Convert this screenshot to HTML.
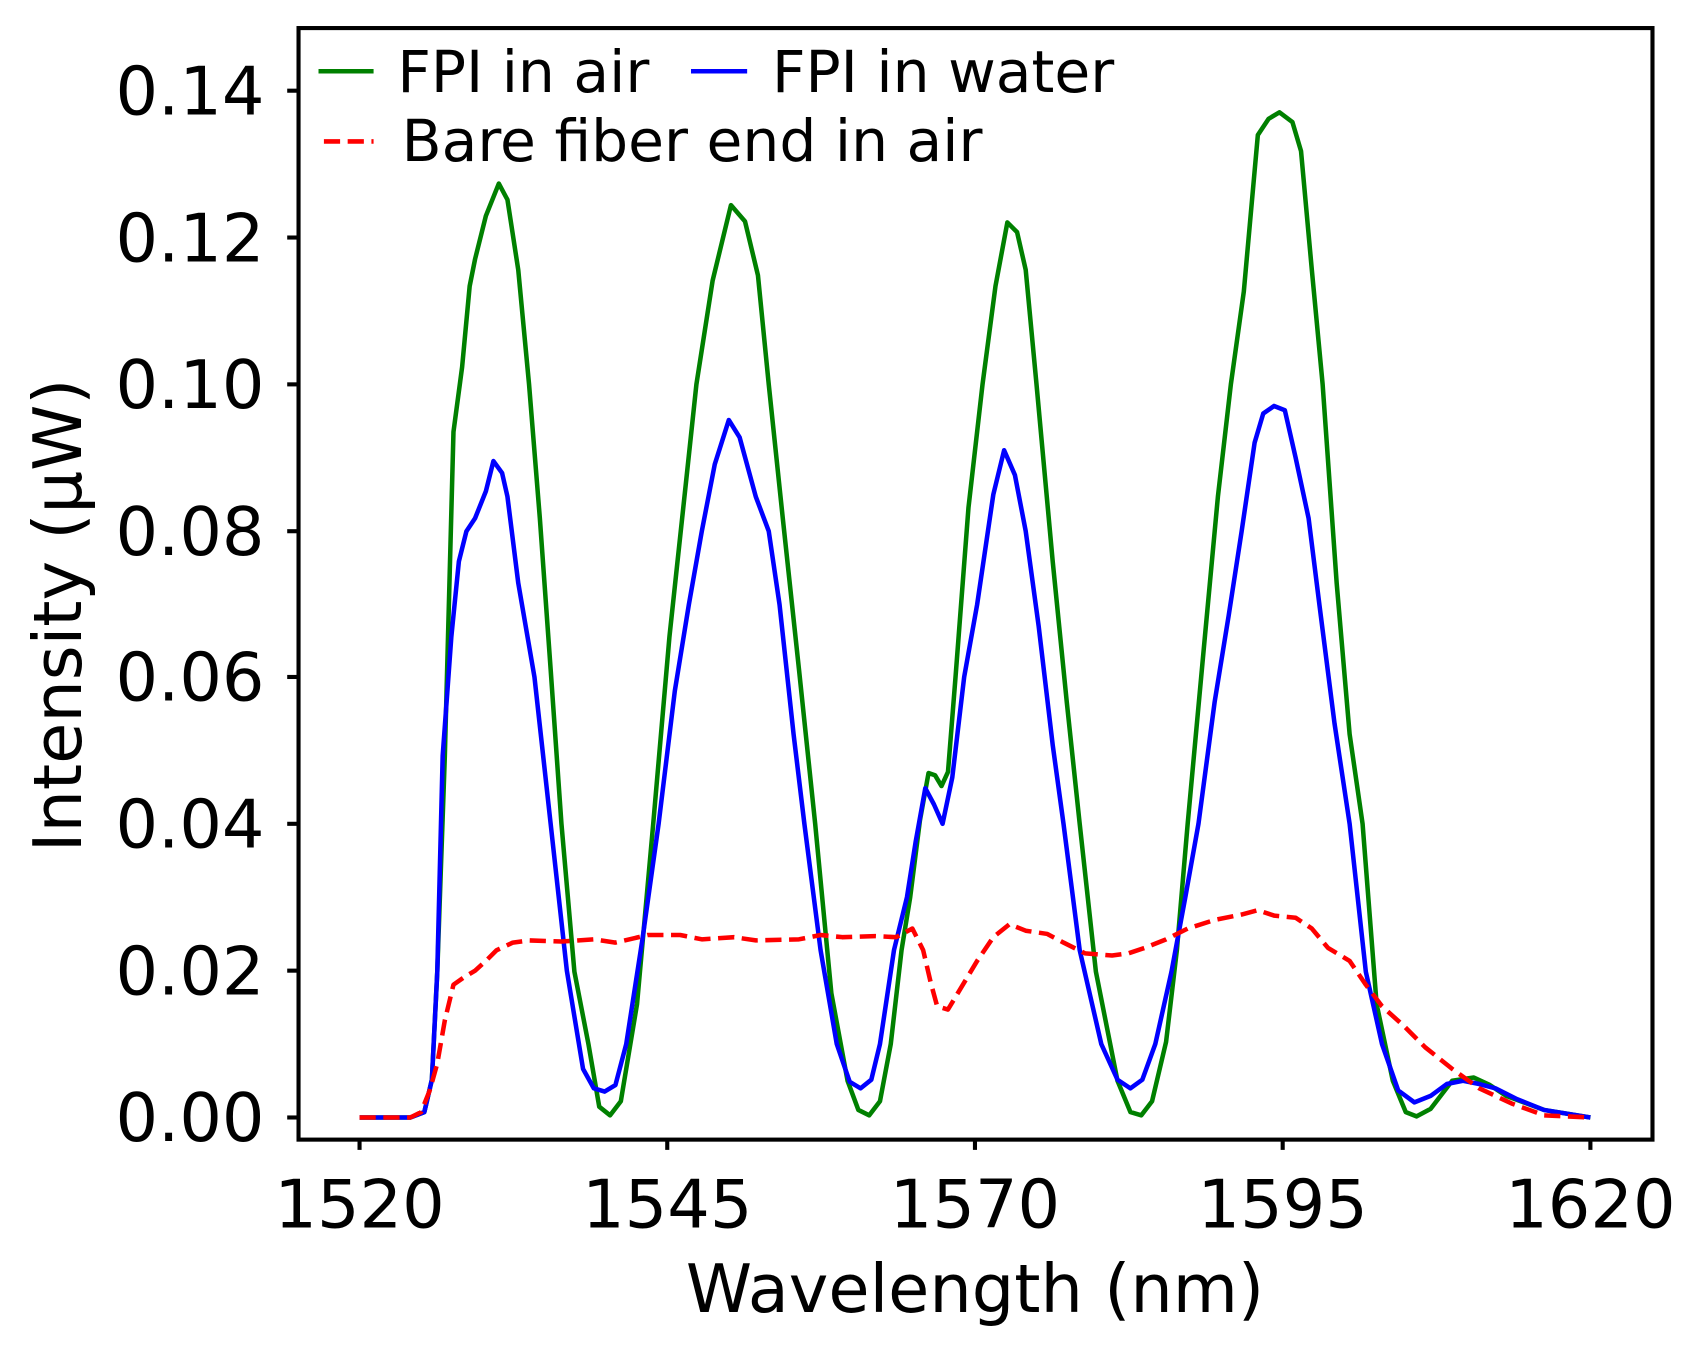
<!DOCTYPE html>
<html><head><style>html,body{margin:0;padding:0;background:#fff}svg{display:block}</style></head>
<body>
<svg width="1693" height="1348" viewBox="0 0 1693 1348" xmlns="http://www.w3.org/2000/svg">
<g transform="scale(1.0797)" font-family="'DejaVu Sans', 'Liberation Sans', sans-serif">
<g fill="none" stroke-width="4.2" stroke-linejoin="round" stroke-linecap="butt">
<polyline stroke="#008000" points="333,1035 380,1035 393,1030 400,1000 405,900 412,700 420,400 428,340 435,265 440,240 450,200 462,170 470,185 480,250 490,356 500,480 510,620 520,763 532,900 545,967 555,1025 565,1033 575,1020 590,930 605,763 620,590 635,450 645,356 660,260 677,190 690,205 702,255 712,356 725,480 740,620 755,763 770,920 785,1001 795,1028 805,1033 815,1020 825,967 835,880 843,831 852,760 860,716 866,718 872,728 878,715 885,627 897,470 910,356 922,265 933,206 942,215 950,250 960,356 975,520 988,650 1000,763 1015,900 1035,1001 1047,1030 1057,1033 1067,1020 1080,965 1090,880 1100,763 1115,600 1128,460 1140,356 1152,270 1165,125 1175,110 1185,104 1197,113 1205,140 1215,250 1225,356 1238,540 1250,680 1262,763 1275,930 1290,1001 1302,1030 1312,1034 1325,1027 1345,1001 1365,998 1380,1005 1395,1015 1430,1028 1473,1035"/>
<polyline stroke="#0000ff" points="333,1035 380,1035 393,1030 400,1000 405,900 410,700 418,590 425,520 432,492 440,480 450,455 457,427 465,438 470,460 480,540 495,627 510,763 525,899 540,990 550,1008 560,1011 570,1005 580,967 595,870 610,763 625,640 638,560 650,492 662,430 675,389 685,405 700,460 712,492 722,560 735,680 745,763 760,880 775,967 787,1002 797,1008 807,1000 815,967 828,880 840,831 848,780 857,730 865,745 873,763 882,720 893,627 905,560 920,458 930,417 940,440 950,492 962,580 975,690 985,763 1000,880 1020,967 1035,1000 1047,1008 1058,1000 1070,967 1085,900 1098,830 1110,763 1125,650 1138,570 1150,492 1162,410 1170,383 1180,376 1190,380 1200,424 1212,480 1222,560 1236,670 1250,763 1265,900 1280,967 1295,1010 1310,1021 1325,1015 1340,1004 1355,1001 1370,1004 1385,1008 1405,1018 1430,1028 1473,1035"/>
<polyline stroke="#ff0000" stroke-dasharray="15,7" points="333,1035 380,1035 390,1030 398,1010 405,985 412,945 420,912 430,905 440,899 450,890 460,880 475,873 490,871 520,872 550,870 570,873 600,866 630,866 650,870 680,868 700,871 740,870 760,866 780,868 810,867 830,868 845,860 855,880 862,910 868,932 878,935 890,915 905,890 920,868 935,856 950,862 970,865 985,873 1005,883 1030,885 1045,883 1060,878 1080,870 1100,860 1125,852 1150,847 1165,843 1180,848 1200,850 1215,860 1230,878 1250,890 1265,912 1280,932 1300,950 1320,970 1345,990 1370,1008 1400,1022 1430,1033 1473,1035"/>
</g>
<rect x="276.5" y="26" width="1254" height="1029.5" fill="none" stroke="#000" stroke-width="3.8"/>
<g stroke="#000" stroke-width="3.8">
<line x1="333" y1="1055" x2="333" y2="1065"/><line x1="618" y1="1055" x2="618" y2="1065"/><line x1="903" y1="1055" x2="903" y2="1065"/><line x1="1188" y1="1055" x2="1188" y2="1065"/><line x1="1473" y1="1055" x2="1473" y2="1065"/>
<line x1="266" y1="1035" x2="276" y2="1035"/><line x1="266" y1="899" x2="276" y2="899"/><line x1="266" y1="763" x2="276" y2="763"/><line x1="266" y1="627" x2="276" y2="627"/><line x1="266" y1="492" x2="276" y2="492"/><line x1="266" y1="356" x2="276" y2="356"/><line x1="266" y1="220" x2="276" y2="220"/><line x1="266" y1="84" x2="276" y2="84"/>
</g>
<g font-size="62" fill="#000" text-anchor="middle">
<text x="333" y="1137">1520</text><text x="618" y="1137">1545</text><text x="903" y="1137">1570</text><text x="1188" y="1137">1595</text><text x="1473" y="1137">1620</text>
<text x="903" y="1215">Wavelength (nm)</text>
<text transform="translate(75,570) rotate(-90)">Intensity (μW)</text>
</g>
<g font-size="62" fill="#000" text-anchor="end">
<text x="245" y="1057">0.00</text><text x="245" y="921">0.02</text><text x="245" y="785">0.04</text><text x="245" y="649">0.06</text><text x="245" y="514">0.08</text><text x="245" y="378">0.10</text><text x="245" y="242">0.12</text><text x="245" y="106">0.14</text>
</g>
<g stroke-width="4.2">
<line x1="295" y1="66" x2="346" y2="66" stroke="#008000"/>
<line x1="640" y1="66" x2="692" y2="66" stroke="#0000ff"/>
<line x1="300" y1="131" x2="346" y2="131" stroke="#ff0000" stroke-dasharray="15,7"/>
</g>
<g font-size="54" fill="#000">
<text x="368" y="85">FPI in air</text>
<text x="715" y="85">FPI in water</text>
<text x="372" y="149">Bare fiber end in air</text>
</g>
</g>
</svg>
</body></html>
